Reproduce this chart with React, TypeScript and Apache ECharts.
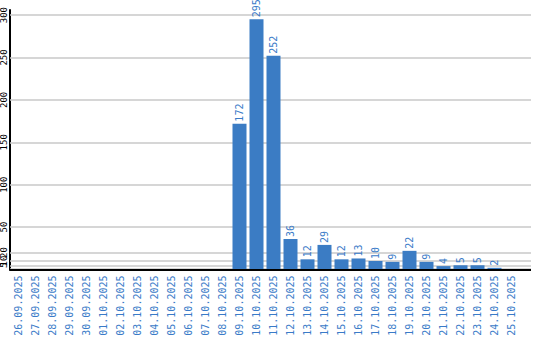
import React, { useEffect, useRef } from "react";
import * as echarts from "echarts";

const categories = [
  "26.09.2025", "27.09.2025", "28.09.2025", "29.09.2025", "30.09.2025",
  "01.10.2025", "02.10.2025", "03.10.2025", "04.10.2025", "05.10.2025",
  "06.10.2025", "07.10.2025", "08.10.2025", "09.10.2025", "10.10.2025",
  "11.10.2025", "12.10.2025", "13.10.2025", "14.10.2025", "15.10.2025",
  "16.10.2025", "17.10.2025", "18.10.2025", "19.10.2025", "20.10.2025",
  "21.10.2025", "22.10.2025", "23.10.2025", "24.10.2025", "25.10.2025",
];

const values = [
  0, 0, 0, 0, 0,
  0, 0, 0, 0, 0,
  0, 0, 0, 172, 295,
  252, 36, 12, 29, 12,
  13, 10, 9, 22, 9,
  4, 5, 5, 2, 0,
];

const yTicks = [1, 5, 10, 20, 50, 100, 150, 200, 250, 300];

const BLUE = "#3b7cc4";
const LABEL_BLUE = "#3a7bc8";
const MONO = "'DejaVu Sans Mono', 'Liberation Mono', monospace";

export default function App() {
  const ref = useRef<HTMLDivElement>(null);

  useEffect(() => {
    if (!ref.current) return;
    const chart = echarts.init(ref.current, undefined, { renderer: "svg" });
    const option: any = {
      animation: false,
      grid: {
        left: 10,
        top: 10,
        width: 510,
        bottom: 70.5,
        containLabel: false,
        outerBoundsMode: "none",
      },
      xAxis: {
        type: "category",
        data: categories,
        axisLine: { show: true, lineStyle: { color: "#000", width: 2 } },
        axisTick: { show: false },
        splitLine: { show: false },
        axisLabel: {
          interval: 0,
          rotate: 90,
          margin: 6,
          fontFamily: MONO,
          fontSize: 10,
          color: LABEL_BLUE,
        },
      },
      yAxis: {
        type: "value",
        min: 0,
        max: 306,
        axisLine: { show: true, lineStyle: { color: "#000", width: 2 } },
        axisTick: { show: false },
        splitLine: { show: false },
        axisLabel: {
          customValues: yTicks,
          rotate: 90,
          margin: 2,
          fontFamily: MONO,
          fontSize: 9,
          color: "#000",
          hideOverlap: false,
        },
      },
      series: [
        {
          type: "line",
          data: [],
          z: 1,
          silent: true,
          markLine: {
            z: 1,
            silent: true,
            symbol: ["none", "none"],
            label: { show: false },
            lineStyle: { color: "#c8c8c8", width: 1.5, type: "solid" },
            data: yTicks.map((v) => [
              { x: 10, yAxis: v },
              { x: 531, yAxis: v },
            ]),
          },
        },
        {
          type: "bar",
          data: values,
          barWidth: 14,
          z: 3,
          itemStyle: { color: BLUE },
          label: {
            show: true,
            position: "top",
            rotate: 90,
            align: "left",
            verticalAlign: "middle",
            distance: 2,
            fontFamily: MONO,
            fontSize: 10,
            color: LABEL_BLUE,
            formatter: (p: any) => (p.value ? String(p.value) : ""),
          },
        },
        {
          type: "line",
          data: [],
          z: 6,
          silent: true,
          markLine: {
            z: 6,
            silent: true,
            symbol: ["none", "none"],
            label: { show: false },
            lineStyle: { color: "#000", width: 2, type: "solid" },
            data: [[{ x: 10, yAxis: 0 }, { x: 531, yAxis: 0 }]],
          },
        },
      ],
    };
    chart.setOption(option);
    return () => chart.dispose();
  }, []);

  return (
    <div
      ref={ref}
      style={{ position: "fixed", left: 0, top: 0, width: 540, height: 340, background: "#fff" }}
    />
  );
}
